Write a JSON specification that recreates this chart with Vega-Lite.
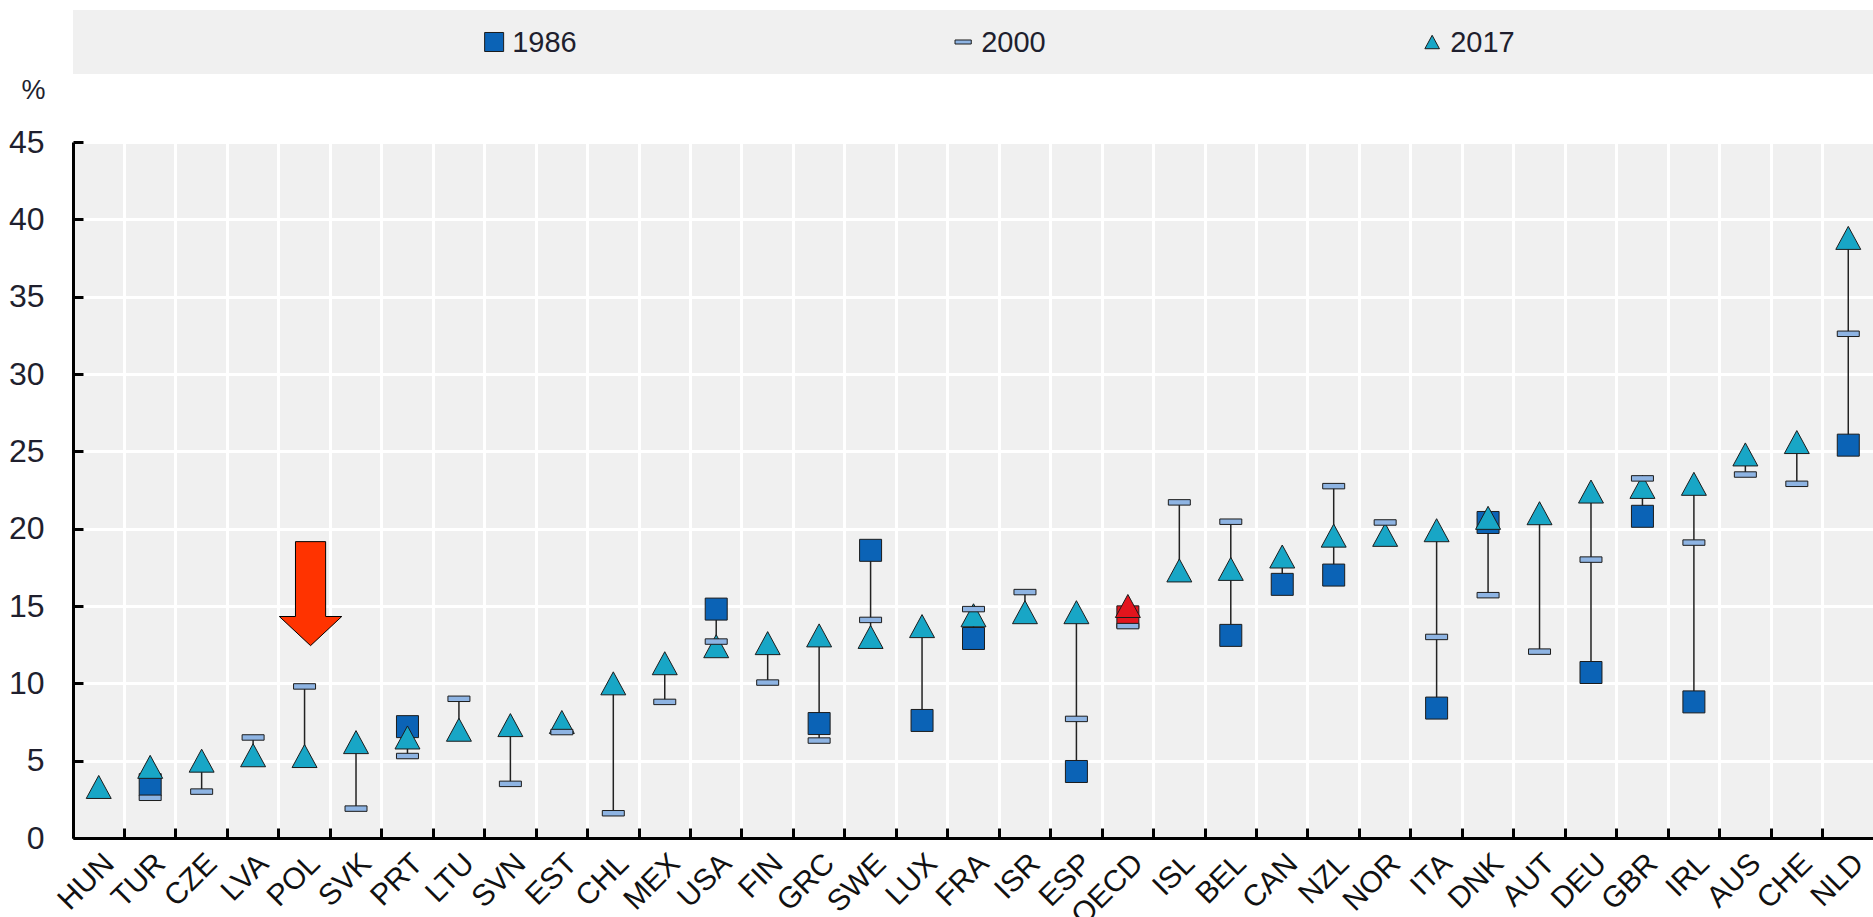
{
  "$schema": "https://vega.github.io/schema/vega-lite/v6.json",
  "padding": {"left": 8, "top": 10, "right": 0, "bottom": 0},
  "bounds": "flush",
  "spacing": 68,
  "config": {"view": {"stroke": null}, "font": "Liberation Sans"},
  "vconcat": [
    {
      "width": 1801,
      "height": 64,
      "view": {"fill": "#f0f0f0", "stroke": null},
      "data": {"values": [{"year": "1986"}, {"year": "2000"}, {"year": "2017"}]},
      "encoding": {
        "x": {"field": "year", "type": "nominal", "scale": {"type": "point", "domain": ["1986", "2000", "2017"], "padding": 0.92, "align": 0.488}, "axis": null}
      },
      "layer": [
        {
          "mark": {"type": "point", "filled": true, "opacity": 1, "stroke": "#1c1c1c", "strokeWidth": 1},
          "encoding": {
            "shape": {"field": "year", "type": "nominal", "scale": {"domain": ["1986", "2000", "2017"], "range": ["M-0.846,-0.846L0.846,-0.846L0.846,0.846L-0.846,0.846Z", "M-0.846,-0.21L0.846,-0.21L0.846,0.21L-0.846,0.21Z", "M0,-0.885L0.96,0.885L-0.96,0.885Z"]}, "legend": null},
            "fill": {"field": "year", "type": "nominal", "scale": {"domain": ["1986", "2000", "2017"], "range": ["#0b63b6", "#8eb4e3", "#18a6c6"]}, "legend": null},
            "size": {"field": "year", "type": "nominal", "scale": {"domain": ["1986", "2000", "2017"], "range": [505, 231, 353]}, "legend": null}
          }
        },
        {
          "mark": {"type": "text", "align": "left", "baseline": "middle", "dx": 18, "dy": 1, "font": "Liberation Sans Narrow, Liberation Sans", "fontSize": 29, "color": "#1f1f2e"},
          "encoding": {"text": {"field": "year", "type": "nominal"}}
        }
      ]
    },
    {
      "width": 1801,
      "height": 696,
      "view": {"fill": "#f0f0f0", "stroke": null},
      "data": {"values": [
        {"c": "TUR", "year": "1986", "v": 3.45},
        {"c": "PRT", "year": "1986", "v": 7.2},
        {"c": "USA", "year": "1986", "v": 14.8},
        {"c": "GRC", "year": "1986", "v": 7.4},
        {"c": "SWE", "year": "1986", "v": 18.6},
        {"c": "LUX", "year": "1986", "v": 7.6},
        {"c": "FRA", "year": "1986", "v": 12.9},
        {"c": "ESP", "year": "1986", "v": 4.3},
        {"c": "OECD", "year": "1986", "v": 14.3},
        {"c": "BEL", "year": "1986", "v": 13.1},
        {"c": "CAN", "year": "1986", "v": 16.4},
        {"c": "NZL", "year": "1986", "v": 17.0},
        {"c": "ITA", "year": "1986", "v": 8.4},
        {"c": "DNK", "year": "1986", "v": 20.4},
        {"c": "DEU", "year": "1986", "v": 10.7},
        {"c": "GBR", "year": "1986", "v": 20.8},
        {"c": "IRL", "year": "1986", "v": 8.8},
        {"c": "NLD", "year": "1986", "v": 25.4},
        {"c": "HUN", "year": "2017", "v": 3.3},
        {"c": "TUR", "year": "2017", "v": 4.6},
        {"c": "CZE", "year": "2017", "v": 5.0},
        {"c": "LVA", "year": "2017", "v": 5.35},
        {"c": "POL", "year": "2017", "v": 5.3},
        {"c": "SVK", "year": "2017", "v": 6.2},
        {"c": "PRT", "year": "2017", "v": 6.5},
        {"c": "LTU", "year": "2017", "v": 7.0},
        {"c": "SVN", "year": "2017", "v": 7.3},
        {"c": "EST", "year": "2017", "v": 7.5},
        {"c": "CHL", "year": "2017", "v": 10.0},
        {"c": "MEX", "year": "2017", "v": 11.3},
        {"c": "USA", "year": "2017", "v": 12.4},
        {"c": "FIN", "year": "2017", "v": 12.6},
        {"c": "GRC", "year": "2017", "v": 13.1},
        {"c": "SWE", "year": "2017", "v": 13.0},
        {"c": "LUX", "year": "2017", "v": 13.7},
        {"c": "FRA", "year": "2017", "v": 14.4},
        {"c": "ISR", "year": "2017", "v": 14.6},
        {"c": "ESP", "year": "2017", "v": 14.6},
        {"c": "OECD", "year": "2017", "v": 15.0},
        {"c": "ISL", "year": "2017", "v": 17.3},
        {"c": "BEL", "year": "2017", "v": 17.4},
        {"c": "CAN", "year": "2017", "v": 18.2},
        {"c": "NZL", "year": "2017", "v": 19.55},
        {"c": "NOR", "year": "2017", "v": 19.6},
        {"c": "ITA", "year": "2017", "v": 19.9},
        {"c": "DNK", "year": "2017", "v": 20.7},
        {"c": "AUT", "year": "2017", "v": 21.0},
        {"c": "DEU", "year": "2017", "v": 22.4},
        {"c": "GBR", "year": "2017", "v": 22.7},
        {"c": "IRL", "year": "2017", "v": 22.9},
        {"c": "AUS", "year": "2017", "v": 24.8},
        {"c": "CHE", "year": "2017", "v": 25.6},
        {"c": "NLD", "year": "2017", "v": 38.8},
        {"c": "TUR", "year": "2000", "v": 2.6},
        {"c": "CZE", "year": "2000", "v": 3.0},
        {"c": "LVA", "year": "2000", "v": 6.5},
        {"c": "POL", "year": "2000", "v": 9.8},
        {"c": "SVK", "year": "2000", "v": 1.9},
        {"c": "PRT", "year": "2000", "v": 5.3},
        {"c": "LTU", "year": "2000", "v": 9.0},
        {"c": "SVN", "year": "2000", "v": 3.5},
        {"c": "EST", "year": "2000", "v": 6.85},
        {"c": "CHL", "year": "2000", "v": 1.6},
        {"c": "MEX", "year": "2000", "v": 8.8},
        {"c": "USA", "year": "2000", "v": 12.7},
        {"c": "FIN", "year": "2000", "v": 10.05},
        {"c": "GRC", "year": "2000", "v": 6.3},
        {"c": "SWE", "year": "2000", "v": 14.1},
        {"c": "FRA", "year": "2000", "v": 14.8},
        {"c": "ISR", "year": "2000", "v": 15.9},
        {"c": "ESP", "year": "2000", "v": 7.7},
        {"c": "OECD", "year": "2000", "v": 13.7},
        {"c": "ISL", "year": "2000", "v": 21.7},
        {"c": "BEL", "year": "2000", "v": 20.45},
        {"c": "NZL", "year": "2000", "v": 22.75},
        {"c": "NOR", "year": "2000", "v": 20.4},
        {"c": "ITA", "year": "2000", "v": 13.0},
        {"c": "DNK", "year": "2000", "v": 15.7},
        {"c": "AUT", "year": "2000", "v": 12.05},
        {"c": "DEU", "year": "2000", "v": 18.0},
        {"c": "GBR", "year": "2000", "v": 23.25},
        {"c": "IRL", "year": "2000", "v": 19.1},
        {"c": "AUS", "year": "2000", "v": 23.5},
        {"c": "CHE", "year": "2000", "v": 22.9},
        {"c": "NLD", "year": "2000", "v": 32.6}
      ]},
      "encoding": {
        "x": {
          "field": "c", "type": "nominal",
          "scale": {"domain": ["HUN", "TUR", "CZE", "LVA", "POL", "SVK", "PRT", "LTU", "SVN", "EST", "CHL", "MEX", "USA", "FIN", "GRC", "SWE", "LUX", "FRA", "ISR", "ESP", "OECD", "ISL", "BEL", "CAN", "NZL", "NOR", "ITA", "DNK", "AUT", "DEU", "GBR", "IRL", "AUS", "CHE", "NLD"], "paddingInner": 0, "paddingOuter": 0},
          "axis": {
            "title": null, "bandPosition": 0, "labelOffset": 0, "labelAngle": -45, "labelAlign": "right", "labelBaseline": "top",
            "labelFont": "Liberation Sans", "labelFontSize": 30, "labelColor": "#111", "labelPadding": 20, "labelOverlap": false,
            "tickSize": -10, "tickWidth": 3, "tickColor": "#000", "domainColor": "#000", "domainWidth": 3,
            "grid": true, "gridColor": "#ffffff", "gridWidth": 3
          }
        }
      },
      "layer": [
        {
          "mark": {"type": "rule", "color": "#222", "strokeWidth": 1.5},
          "encoding": {
            "y": {
              "aggregate": "min", "field": "v", "type": "quantitative", "title": "%",
              "scale": {"domain": [0, 45], "nice": false},
              "axis": {
                "title": "%", "titleAngle": 0, "titleFont": "Liberation Sans Narrow, Liberation Sans", "titleFontSize": 27, "titleFontWeight": "normal", "titleColor": "#1f1f2e",
                "titleX": -40, "titleY": -44, "titleAlign": "center", "titleBaseline": "alphabetic",
                "values": [0, 5, 10, 15, 20, 25, 30, 35, 40, 45],
                "labelFont": "Liberation Sans Narrow, Liberation Sans", "labelFontSize": 32, "labelColor": "#1f1f2e", "labelPadding": 39,
                "tickSize": -10, "tickWidth": 3, "tickColor": "#000", "domainColor": "#000", "domainWidth": 3,
                "grid": true, "gridColor": "#ffffff", "gridWidth": 3
              }
            },
            "y2": {"aggregate": "max", "field": "v"}
          }
        },
        {
          "mark": {"type": "point", "filled": true, "opacity": 1, "stroke": "#1c1c1c", "strokeWidth": 1, "size": 676},
          "encoding": {
            "y": {"field": "v", "type": "quantitative", "title": "%"},
            "shape": {"field": "year", "type": "nominal", "scale": {"domain": ["1986", "2000", "2017"], "range": ["M-0.846,-0.846L0.846,-0.846L0.846,0.846L-0.846,0.846Z", "M-0.846,-0.21L0.846,-0.21L0.846,0.21L-0.846,0.21Z", "M0,-0.885L0.96,0.885L-0.96,0.885Z"]}, "legend": null},
            "fill": {"field": "year", "type": "nominal", "scale": {"domain": ["1986", "2000", "2017"], "range": ["#0b63b6", "#8eb4e3", "#18a6c6"]}, "legend": null,
              "condition": {"test": "datum.c === 'OECD' && datum.year !== '2000'", "value": "#e3141d"}}
          }
        },
        {
          "data": {"values": [{"c": "POL", "v": 15.8}]},
          "mark": {"type": "point", "shape": "M-0.29,-1L0.29,-1L0.29,0.44L0.6,0.44L0,1L-0.6,0.44L-0.29,0.44Z", "size": 10816, "xOffset": 6, "filled": true, "fill": "#ff3300", "stroke": "#000", "strokeWidth": 1, "opacity": 1},
          "encoding": {"y": {"field": "v", "type": "quantitative", "title": "%"}}
        }
      ]
    }
  ]
}
